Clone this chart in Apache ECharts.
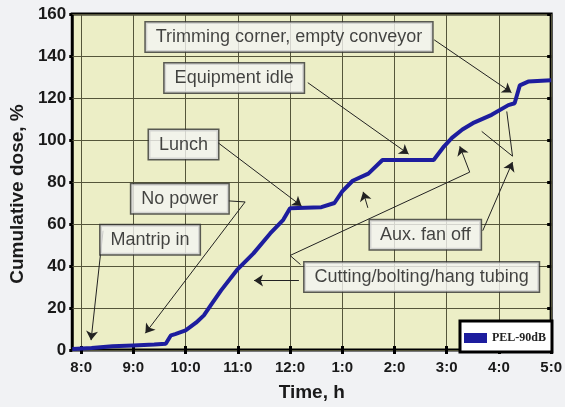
<!DOCTYPE html>
<html><head><meta charset="utf-8">
<script src="https://cdn.jsdelivr.net/npm/echarts@6/dist/echarts.min.js"></script>
<style>html,body{margin:0;padding:0;background:#f1f2f4}#c{width:565px;height:407px}</style>
</head><body><div id="c"></div>
<script>
// ---- data ----
const timeHours = [7.83, 8.2, 8.6, 9.0, 9.4, 9.62, 9.72, 9.8, 10.0, 10.2, 10.35, 10.5, 10.68, 10.98, 11.3, 11.62, 11.87, 12.0, 12.6, 12.85, 13.0, 13.2, 13.5, 13.77, 14.75, 14.95, 15.1, 15.3, 15.5, 15.86, 16.18, 16.3, 16.4, 16.56, 17.0];
const dosePct   = [0.5, 1, 1.8, 2.2, 2.6, 3, 7, 7.6, 9.3, 13, 16.5, 22, 28.4, 38, 46, 55.5, 62, 67.5, 68, 70, 75.5, 80.6, 84, 90.5, 90.5, 97, 101, 105, 108, 112, 116.6, 117.5, 126, 127.8, 128.4];
const seriesName = 'PEL-90dB';
const xTickHours  = [8, 9, 10, 11, 12, 13, 14, 15, 16, 17];
const xTickLabels = ['8:0', '9:0', '10:0', '11:0', '12:0', '1:0', '2:0', '3:0', '4:0', '5:0'];
const xRange = [7.83, 17];
const yRange = [0, 160];
const yStep = 20;
const xTitle = 'Time, h';
const yTitle = 'Cumulative dose, %';

// annotation boxes (data coordinates)
const noteTexts = ['Trimming corner, empty conveyor', 'Equipment idle', 'Lunch', 'No power', 'Mantrip in', 'Aux. fan off', 'Cutting/bolting/hang tubing'];
const noteHours = [11.98, 10.93, 9.96, 9.89, 9.32, 14.59, 14.52];
const noteDoses = [149.1, 129.5, 97.8, 72.0, 52.5, 54.9, 34.8];
// leader lines ending with an arrowhead (data coordinates)
const arrowPaths = [
  [[8.42, 56.8], [8.19, 4.7]],
  [[10.82, 71.0], [11.14, 70.5], [9.23, 8.0]],
  [[10.61, 98.9], [12.22, 68.6]],
  [[12.34, 127.3], [14.27, 93.3]],
  [[14.76, 147.7], [16.24, 122.6]],
  [[12.17, 33.1], [11.31, 33.1]],
  [[12.2, 40.7], [12.0, 45.0], [15.44, 84.7], [15.25, 97.0]],
  [[13.49, 67.7], [13.4, 75.3]],
  [[15.69, 56.8], [16.26, 89.5]]
];
// leader lines without arrowhead
const plainPaths = [
  [[15.67, 104.1], [16.26, 92.3], [16.15, 113.6]]
];

// ---- build ----
const lineData = timeHours.map((h, i) => [h, dosePct[i]]);
const noteData = noteTexts.map((t, i) => ({ value: [noteHours[i], noteDoses[i]], name: t }));
const markLines = [];
function addPath(p, head) {
  for (let i = 0; i < p.length - 1; i++) {
    markLines.push([
      { coord: p[i], symbol: 'none' },
      { coord: p[i + 1], symbol: (head && i === p.length - 2) ? 'arrow' : 'none' }
    ]);
  }
}
arrowPaths.forEach(p => addPath(p, true));
plainPaths.forEach(p => addPath(p, false));

const gridColor = '#55553a';
const font = 'Liberation Sans, Arial, sans-serif';
const chart = echarts.init(document.getElementById('c'), null, { renderer: 'canvas' });
chart.setOption({
  animation: false,
  backgroundColor: '#f1f2f4',
  grid: { left: 68, right: 13, top: 14, bottom: 55, show: true, backgroundColor: '#eceec6', borderColor: '#000', borderWidth: 3 },
  legend: {
    data: [seriesName], right: 13, bottom: 55, orient: 'horizontal',
    backgroundColor: '#ffffff', borderColor: '#000', borderWidth: 3,
    padding: [11, 6, 8, 4], itemWidth: 23, itemHeight: 10, itemGap: 4,
    icon: 'rect',
    textStyle: { fontFamily: 'Liberation Serif, Times New Roman, serif', fontWeight: 'bold', fontSize: 12, color: '#222' }
  },
  xAxis: [{
    type: 'value', min: xRange[0], max: xRange[1], position: 'bottom',
    name: xTitle, nameLocation: 'middle', nameGap: 33,
    nameTextStyle: { fontFamily: font, fontWeight: 'bold', fontSize: 19, color: '#1a1a1a' },
    axisLine: { show: false },
    axisTick: { show: true, inside: true, length: 4, customValues: xTickHours, lineStyle: { color: '#000', width: 3 } },
    axisLabel: { customValues: xTickHours, margin: 10, fontFamily: font, fontWeight: 'bold', fontSize: 15, color: '#1a1a1a',
      formatter: v => xTickLabels[xTickHours.indexOf(Math.round(v))] },
    splitLine: { show: true, lineStyle: { color: gridColor, width: 1 } }
  }, {
    type: 'value', min: xRange[0], max: xRange[1], position: 'top',
    axisLine: { show: false },
    axisTick: { show: true, inside: true, length: 4, customValues: xTickHours, lineStyle: { color: '#000', width: 3 } },
    axisLabel: { show: false }, splitLine: { show: false }
  }],
  yAxis: [{
    type: 'value', min: yRange[0], max: yRange[1], interval: yStep, position: 'left',
    name: yTitle, nameLocation: 'middle', nameGap: 36,
    nameTextStyle: { fontFamily: font, fontWeight: 'bold', fontSize: 19, color: '#1a1a1a', padding: [0, 24, 0, 0] },
    axisLine: { show: false },
    axisTick: { show: true, inside: false, length: 3, lineStyle: { color: '#000', width: 3 } },
    axisLabel: { margin: 6, fontFamily: font, fontWeight: 'bold', fontSize: 17, color: '#1a1a1a' },
    splitLine: { show: true, lineStyle: { color: gridColor, width: 1 } }
  }, {
    type: 'value', min: yRange[0], max: yRange[1], interval: yStep, position: 'right',
    axisLine: { show: false },
    axisTick: { show: true, inside: true, length: 4, lineStyle: { color: '#000', width: 3 } },
    axisLabel: { show: false }, splitLine: { show: false }
  }],
  series: [{
    name: seriesName, type: 'line', data: lineData, showSymbol: false, symbol: 'none',
    xAxisIndex: 0, yAxisIndex: 0, color: '#1d1d9e',
    lineStyle: { color: '#1d1d9e', width: 4 }, z: 3,
    markLine: {
      silent: true, symbolSize: 9, label: { show: false }, animation: false,
      lineStyle: { color: '#222', width: 1, type: 'solid' },
      data: markLines
    }
  }, {
    name: 'notes', type: 'scatter', data: noteData, symbolSize: 0, xAxisIndex: 0, yAxisIndex: 0, z: 5,
    label: {
      show: true, position: 'inside', formatter: p => p.name,
      fontFamily: font, fontSize: 18, color: '#151515',
      backgroundColor: '#f4f4f2', borderColor: '#333', borderWidth: 1.5, padding: [6, 10, 5, 10]
    }
  }]
});
</script></body></html>
